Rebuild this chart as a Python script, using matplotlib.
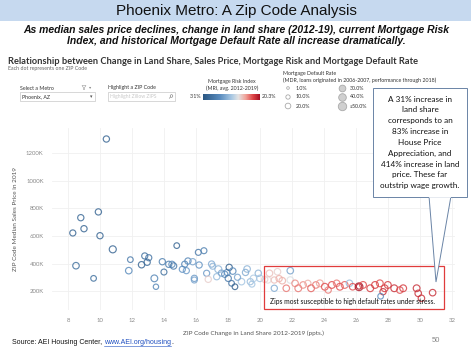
import matplotlib
matplotlib.use("Agg")
import matplotlib.pyplot as plt
import numpy as np
from matplotlib.colors import LinearSegmentedColormap, Normalize
from matplotlib.patches import Rectangle, Polygon, Circle
from matplotlib.ticker import FuncFormatter

# ---- data: one entry per ZIP code ----
land_share_change = [
    10.4, 9.9, 8.8, 9.0, 8.3, 10.0, 10.8, 8.5, 9.6, 11.9, 11.8, 12.8, 13.05, 12.6,
    12.95, 13.4, 13.5, 13.9, 14.0, 14.3, 14.5, 14.6, 14.8, 15.15, 15.4, 15.5, 15.8,
    15.9, 15.9, 16.15, 16.5, 16.2, 15.3,
    16.98, 17.05, 16.67, 16.77, 17.4, 17.3, 17.6, 17.8, 17.95, 18.08, 18.02, 18.23,
    18.44, 18.3, 18.85, 19.2, 19.1, 19.4, 19.6, 19.9, 20.0, 19.5, 18.6,
    20.3, 20.5, 20.6, 21.1, 21.9, 20.9, 21.4, 21.9, 20.9, 21.65, 21.2, 22.2, 22.4,
    22.7, 23.0, 23.2, 23.5, 23.75, 24.06, 24.27, 24.5, 24.8, 25.0, 25.3, 25.6, 25.8,
    26.2, 26.2, 26.45, 26.9, 27.2, 27.5, 27.7, 27.8, 27.55, 28.0, 28.4, 28.75, 28.96,
    29.8, 29.9, 30.1, 30.8,
]
median_price_k = [
    1305, 775, 733, 653, 622, 602, 503, 384, 292, 428, 348, 455, 442, 391,
    409, 292, 231, 413, 338, 394, 394, 382, 530, 358, 348, 418, 413,
    292, 280, 481, 493, 389, 395,
    396, 380, 329, 285, 358, 304, 330, 322, 335, 372, 292, 256,
    231, 345, 268, 360, 335, 268, 292, 329, 292, 250, 300,
    285, 280, 329, 340, 348, 280, 275, 280, 220, 220, 290, 256, 220,
    244, 256, 220, 244, 256, 231, 207, 244, 256, 231, 244, 256, 231,
    231, 233, 244, 220, 244, 256, 195, 220, 162, 244, 220, 207, 220,
    220, 183, 147, 188,
]
mortgage_risk_index = [
    4.5, 4.5, 4.8, 4.5, 4.5, 4.5, 4.5, 5.5, 5.5, 6.5, 8.0, 5.5, 6.0, 4.5,
    5.0, 7.5, 7.5, 7.0, 5.5, 7.0, 8.0, 6.5, 4.5, 8.5, 9.0, 7.5, 9.5,
    9.0, 9.5, 6.5, 7.0, 8.5, 7.5,
    10.0, 10.5, 9.0, 14.5, 10.5, 11.0, 9.5, 8.0, 8.5, 4.0, 6.5, 6.0,
    4.0, 8.0, 11.5, 10.5, 10.0, 11.0, 12.0, 10.5, 11.5, 11.5, 9.5,
    14.5, 14.0, 15.0, 14.5, 9.5, 15.0, 15.5, 13.5, 10.0, 17.0, 15.5, 16.5, 17.0,
    16.5, 15.5, 17.5, 17.0, 16.0, 18.0, 17.0, 18.0, 17.0, 18.0, 17.5, 11.0, 18.0,
    20.0, 20.0, 18.0, 18.5, 18.5, 18.0, 19.0, 18.5, 8.0, 18.5, 19.0, 18.0, 18.5,
    19.0, 19.0, 19.0, 19.0,
]
mortgage_default_rate = [
    18, 18, 18, 18, 17, 18, 24, 20, 14, 14, 20, 17, 17, 19,
    18, 22, 12, 18, 16, 18, 18, 19, 14, 17, 17, 18, 18,
    18, 16, 16, 16, 18, 17,
    18, 16, 17, 18, 24, 18, 18, 18, 17, 18, 18, 14,
    14, 20, 20, 20, 18, 18, 20, 19, 20, 16, 17,
    18, 18, 20, 20, 20, 18, 20, 20, 18, 20, 18, 20, 22,
    20, 18, 22, 20, 22, 22, 18, 22, 20, 22, 22, 20, 20,
    30, 12, 22, 22, 22, 22, 18, 22, 14, 22, 22, 20, 22,
    22, 20, 20, 20,
]

mri_range = (3.1, 20.3)
mdr_legend = [1.0, 10.0, 20.0, 30.0, 40.0, 50.0]
mdr_legend_labels = ["1.0%", "10.0%", "20.0%", "30.0%", "40.0%", "\u226550.0%"]
x_ticks = list(range(8, 33, 2))
y_ticks = [200, 400, 600, 800, 1000, 1200]

callout_lines = [
    "A 31% increase in", "land share", "corresponds to an", "83% increase in",
    "House Price", "Appreciation, and", "414% increase in land",
    "price. These far", "outstrip wage growth.",
]

W, H = 471, 350
fig = plt.figure(figsize=(W / 100, H / 100), dpi=100)

def fx(px):
    return px / W

def fy(py):
    return 1 - py / H

cmap = LinearSegmentedColormap.from_list(
    "mri",
    [(0.0, "#2a5783"), (0.3, "#5b8dbf"), (0.5, "#a8c8e4"), (0.62, "#e4e4e4"),
     (0.75, "#f0a39a"), (0.88, "#de4446"), (1.0, "#a50f24")],
)
norm = Normalize(*mri_range)

def mdr_size(v):
    return 0.9 * np.asarray(v, dtype=float) + 4

TAB = "Lato"

# ---- scatter plot ----
ax = fig.add_axes([fx(52), fy(310), fx(455 - 52), (310 - 128) / H])
ax.scatter(land_share_change, median_price_k, s=mdr_size(mortgage_default_rate),
           facecolors="none", edgecolors=cmap(norm(mortgage_risk_index)),
           linewidths=0.85, alpha=0.82, zorder=3)
ax.set_xlim(7.0, 32.2)
ax.set_ylim(62, 1385)
ax.set_xticks(x_ticks)
ax.set_yticks(y_ticks)
ax.yaxis.set_major_formatter(FuncFormatter(lambda v, p: f"{int(v)}K"))
ax.grid(True, color="#f0f0f0", linewidth=0.6)
ax.set_axisbelow(True)
for sp in ax.spines.values():
    sp.set_visible(False)
ax.tick_params(length=0, labelsize=4.3, labelcolor="#8a8a8a", pad=6)
for lab in ax.get_xticklabels() + ax.get_yticklabels():
    lab.set_family(TAB)
ax.set_xlabel("ZIP Code Change in Land Share 2012-2019 (ppts.)", fontsize=4.6,
              color="#555555", family=TAB, labelpad=5)
ax.set_ylabel("ZIP Code Median Sales Price in 2019", fontsize=4.6,
              color="#555555", family=TAB, labelpad=6)

# ---- overlay in pixel coordinates for the slide furniture ----
ov = fig.add_axes([0, 0, 1, 1], zorder=5)
ov.set_xlim(0, W)
ov.set_ylim(H, 0)
ov.axis("off")

ov.add_patch(Rectangle((0, 0), W, 21, facecolor="#c6d9ef", edgecolor="none"))
ov.text(236, 11, "Phoenix Metro: A Zip Code Analysis", ha="center", va="center",
        fontsize=11, family="Liberation Sans", color="#111111")
ov.text(236, 30, "As median sales price declines, change in land share (2012-19), current Mortgage Risk",
        ha="center", va="center", fontsize=7.5, family="Liberation Sans",
        weight="bold", style="italic", color="#111111")
ov.text(236, 41, "Index, and historical Mortgage Default Rate all increase dramatically.",
        ha="center", va="center", fontsize=7.5, family="Liberation Sans",
        weight="bold", style="italic", color="#111111")

ov.text(8, 62, "Relationship between Change in Land Share, Sales Price, Mortgage Risk and Mortgage Default Rate",
        ha="left", va="center", fontsize=6.7, family=TAB, weight="bold", color="#333333")
ov.text(8, 68.5, "Each dot represents one ZIP Code", ha="left", va="center",
        fontsize=3.8, family=TAB, color="#666666")

# filter controls
ov.text(20, 88, "Select a Metro", ha="left", va="center", fontsize=3.8, family=TAB, color="#333333")
ov.add_patch(Polygon([(82, 85.5), (86, 85.5), (84.6, 87.5), (84.6, 89.5), (83.4, 89.5), (83.4, 87.5)],
                     closed=True, facecolor="none", edgecolor="#999999", linewidth=0.4))
ov.text(89, 87.5, "\u25be", ha="left", va="center", fontsize=3.2, family="DejaVu Sans", color="#888888")
ov.add_patch(Rectangle((20, 92), 75, 9, facecolor="white", edgecolor="#c8c8c8", linewidth=0.5))
ov.text(22, 96.5, "Phoenix, AZ", ha="left", va="center", fontsize=3.8, family=TAB, color="#333333")
ov.text(91, 96.5, "\u25be", ha="center", va="center", fontsize=3.5, family="DejaVu Sans", color="#555555")
ov.text(108, 88, "Highlight a ZIP Code", ha="left", va="center", fontsize=3.8, family=TAB, color="#333333")
ov.add_patch(Rectangle((108, 92), 67, 9, facecolor="white", edgecolor="#c8c8c8", linewidth=0.5))
ov.text(110, 96.5, "Highlight Zillow ZIPS", ha="left", va="center", fontsize=3.6, family=TAB, color="#c8c8c8")
ov.add_patch(Circle((171.5, 96), 1.3, facecolor="none", edgecolor="#777777", linewidth=0.4))
ov.plot([170.5, 169.3], [97.0, 98.3], color="#777777", linewidth=0.4)

# colour legend
ov.text(232, 82, "Mortgage Risk Index", ha="center", va="center", fontsize=3.8, family=TAB, color="#333333")
ov.text(232, 88, "(MRI, avg. 2012-2019)", ha="center", va="center", fontsize=3.8, family=TAB, color="#333333")
ov.text(201, 97, f"{mri_range[0]}%", ha="right", va="center", fontsize=3.8, family=TAB, color="#333333")
ov.text(262, 97, f"{mri_range[1]}%", ha="left", va="center", fontsize=3.8, family=TAB, color="#333333")
cax = fig.add_axes([fx(203), fy(100.5), fx(57), 6.5 / H], zorder=6)
cax.imshow(np.linspace(0, 1, 256)[None, :], aspect="auto", cmap=cmap, extent=(0, 1, 0, 1))
cax.axis("off")

# size legend
ov.text(283, 74, "Mortgage Default Rate", ha="left", va="center", fontsize=3.8, family=TAB, color="#333333")
ov.text(283, 80.5, "(MDR, loans originated in 2006-2007, performance through 2018)",
        ha="left", va="center", fontsize=3.8, family=TAB, color="#333333")
leg_pos = [(288, 88), (288, 97), (288, 106), (342, 88), (342, 97), (342, 106)]
for (lx, ly), v, lab in zip(leg_pos, mdr_legend, mdr_legend_labels):
    ov.scatter([lx], [ly], s=mdr_size(v) * 0.75, facecolor="#d0d0d0" if v >= 30 else "none",
               edgecolor="#aaaaaa", linewidths=0.6)
    ov.text(lx + 8, ly, lab, ha="left", va="center", fontsize=3.8, family=TAB, color="#333333")

# red highlight box
ov.add_patch(Rectangle((264, 266), 180, 43, facecolor="none", edgecolor="#e03c3c", linewidth=0.9))
ov.text(270, 301.5, "Zips most susceptible to high default rates under stress.",
        ha="left", va="center", fontsize=4.9, family="Lato", color="#111111")

# callout with pointer
edge = "#6a84a6"
ov.add_patch(Polygon([(429, 196), (436, 282), (451, 196)], closed=True,
                     facecolor="white", edgecolor=edge, linewidth=0.7, zorder=2))
ov.add_patch(Rectangle((373, 88), 94, 109, facecolor="white", edgecolor=edge, linewidth=0.7, zorder=3))
ov.plot([430, 450], [197, 197], color="white", linewidth=1.2, zorder=4)
for i, line in enumerate(callout_lines):
    ov.text(420, 99 + i * 10.85, line, ha="center", va="center", fontsize=5.9,
            family="Lato", color="#111111", zorder=5)

# footer: plain text followed by an underlined link
fig.canvas.draw()
renderer = fig.canvas.get_renderer()
src = ov.text(12, 343, "Source: AEI Housing Center,\u00a0", ha="left", va="center", fontsize=5,
              family="Liberation Sans", color="#111111")
bb = src.get_window_extent(renderer)
x_link = bb.x1
link = ov.text(x_link, 343, "www.AEI.org/housing", ha="left", va="center", fontsize=5,
               family="Liberation Sans", color="#1f4fc0")
link.set_transform(matplotlib.transforms.blended_transform_factory(
    matplotlib.transforms.IdentityTransform(), ov.transData))
lb = link.get_window_extent(renderer)
inv = ov.transData.inverted()
lx0 = inv.transform((lb.x0, 0))[0]
lx1 = inv.transform((lb.x1, 0))[0]
ov.plot([lx0, lx1], [345.5, 345.5], color="#1f4fc0", linewidth=0.4)
ov.text(lx1 + 0.3, 343, ".", ha="left", va="center", fontsize=5, family="Liberation Sans", color="#111111")
ov.text(436, 340, "50", ha="center", va="center", fontsize=5.5, family="Liberation Sans", color="#888888")

fig.savefig("out.png", dpi=100)
